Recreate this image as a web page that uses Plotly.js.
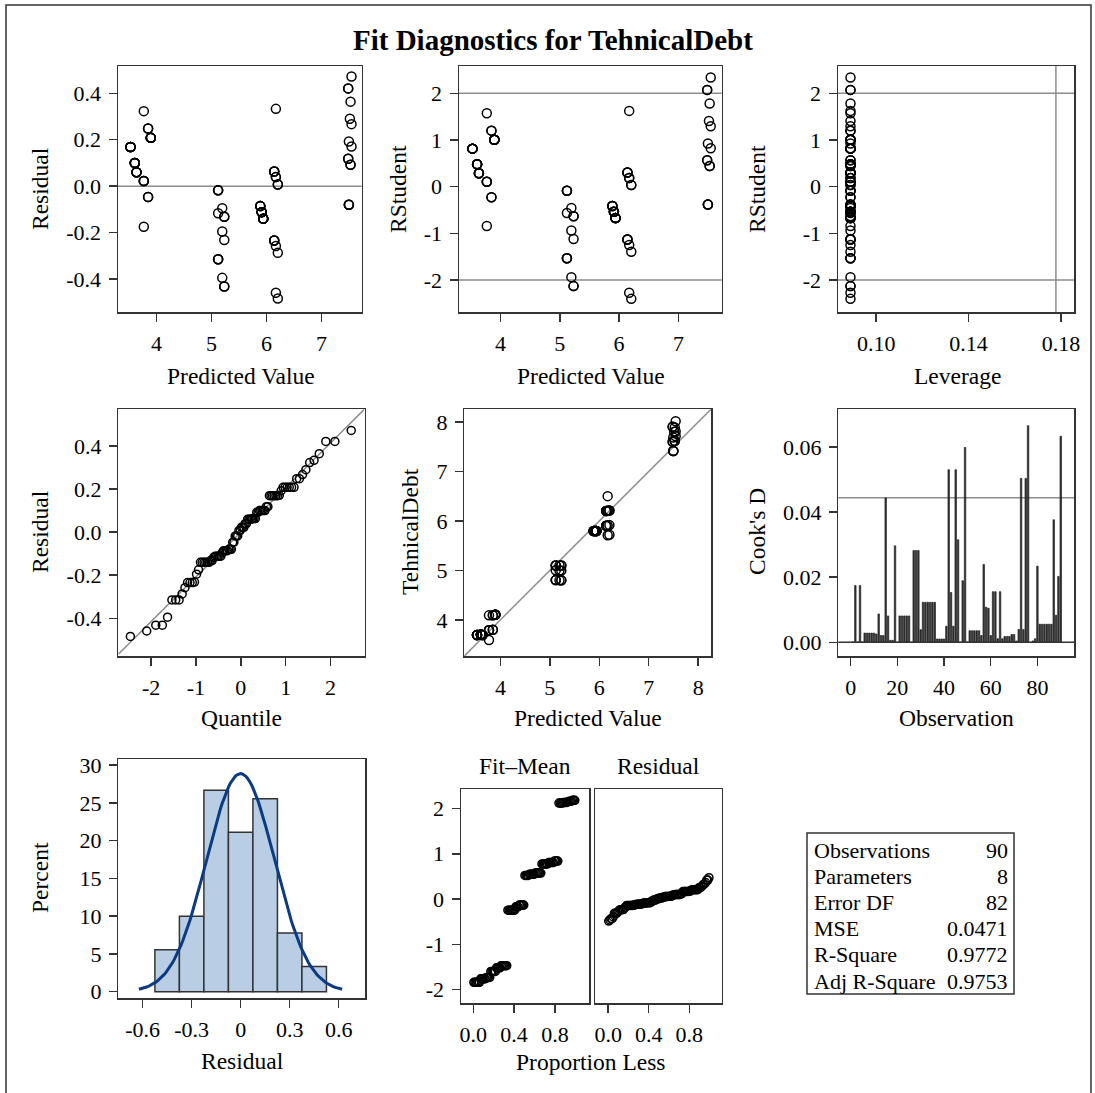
<!DOCTYPE html>
<html><head><meta charset="utf-8">
<script src="https://cdn.plot.ly/plotly-3.0.1.min.js"></script>
<style>html,body{margin:0;padding:0;background:#fff}#chart{width:1095px;height:1093px}</style>
</head><body><div id="chart"></div>
<script>
// ---------- data (by observation number 1..90) ----------
const predicted = [
 3.769,3.847,3.769,3.847,3.769,3.605,3.605,3.605,3.605,3.605,
 5.195,3.769,5.886,5.886,5.195,3.527,3.847,3.847,3.769,5.120,
 3.527,3.527,3.527,3.527,3.527,6.205,5.120,5.120,5.120,5.120,
 3.896,3.896,3.896,3.896,3.896,3.896,3.636,3.636,3.636,3.636,
 5.232,5.232,5.232,5.232,5.232,6.170,5.120,6.170,6.170,5.120,
 5.912,5.912,5.912,5.912,5.912,5.886,7.515,5.195,7.497,5.886,
 6.140,6.140,6.140,6.140,6.140,7.497,7.497,7.497,7.527,7.527,
 6.170,7.485,7.485,7.485,7.485,6.205,6.205,6.170,6.140,6.205,
 5.940,5.940,5.940,5.940,5.940,5.940,7.527,7.545,7.545,7.545
];
const residual = [
 0.022,0.248,0.022,0.248,0.022,0.100,0.100,0.100,0.100,0.100,
 -0.095,-0.175,-0.086,-0.086,-0.395,0.169,-0.047,-0.047,0.323,-0.018,
 0.169,0.169,0.169,0.169,0.169,0.007,-0.315,-0.315,-0.315,-0.117,
 0.208,0.208,0.208,0.208,0.208,0.208,0.060,0.060,0.060,0.060,
 -0.132,-0.432,-0.232,-0.132,-0.432,0.333,-0.018,-0.258,-0.459,-0.018,
 -0.112,-0.112,-0.112,-0.112,-0.112,-0.086,0.290,-0.195,0.192,-0.086,
 -0.234,-0.234,0.063,-0.234,0.063,-0.080,-0.080,-0.080,0.092,0.092,
 0.039,0.118,0.421,0.118,0.421,-0.484,0.007,0.039,0.063,-0.287,
 -0.140,-0.140,-0.140,-0.140,-0.140,-0.140,0.364,0.171,0.267,0.472
];
const leverageValue = 0.0889;

// fit statistics table
const statLabels = ["Observations","Parameters","Error DF","MSE","R-Square","Adj R-Square"];
const statValues = ["90","8","82","0.0471","0.9772","0.9753"];
const nObs = 90, nParams = 8, MSE = 0.0471;

// tick labels
const tkPredV = [4,5,6,7],            tkPredT = ["4","5","6","7"];
const tkResV  = [-0.4,-0.2,0,0.2,0.4], tkResT  = ["-0.4","-0.2","0.0","0.2","0.4"];
const tkRstV  = [-2,-1,0,1,2],         tkRstT  = ["-2","-1","0","1","2"];
const tkLevV  = [0.10,0.14,0.18],      tkLevT  = ["0.10","0.14","0.18"];
const tkQV    = [-2,-1,0,1,2],         tkQT    = ["-2","-1","0","1","2"];
const tkObsV  = [4,5,6,7,8],           tkObsT  = ["4","5","6","7","8"];
const tkNumV  = [0,20,40,60,80],       tkNumT  = ["0","20","40","60","80"];
const tkCdV   = [0,0.02,0.04,0.06],    tkCdT   = ["0.00","0.02","0.04","0.06"];
const tkHxV   = [-0.6,-0.3,0,0.3,0.6], tkHxT   = ["-0.6","-0.3","0","0.3","0.6"];
const tkPctV  = [0,5,10,15,20,25,30],  tkPctT  = ["0","5","10","15","20","25","30"];
const tkPropV = [0,0.4,0.8],           tkPropT = ["0.0","0.4","0.8"];

// ---------- derived diagnostics (as computed by the regression procedure) ----------
const n = residual.length;
const observed = predicted.map((p,i)=>p+residual[i]);
const leverage = residual.map(()=>leverageValue);
const rootMSE = Math.sqrt(MSE);
const rInternal = residual.map((e,i)=>e/(rootMSE*Math.sqrt(1-leverage[i])));
const rstudent = rInternal.map(r=>r*Math.sqrt((n-nParams-1)/(n-nParams-r*r)));
const cooksD = rInternal.map((r,i)=>r*r*leverage[i]/(nParams*(1-leverage[i])));
const obsNumber = residual.map((e,i)=>i+1);

function probit(p){
 const a=[-3.969683028665376e+01,2.209460984245205e+02,-2.759285104469687e+02,1.383577518672690e+02,-3.066479806614716e+01,2.506628277459239e+00];
 const b=[-5.447609879822406e+01,1.615858368580409e+02,-1.556989798598866e+02,6.680131188771972e+01,-1.328068155288572e+01];
 const c=[-7.784894002430293e-03,-3.223964580411365e-01,-2.400758277161838e+00,-2.549732539343734e+00,4.374664141464968e+00,2.938163982698783e+00];
 const d=[7.784695709041462e-03,3.224671290700398e-01,2.445134137142996e+00,3.754408661907416e+00];
 const pl=0.02425;
 if(p<pl){const q=Math.sqrt(-2*Math.log(p));return (((((c[0]*q+c[1])*q+c[2])*q+c[3])*q+c[4])*q+c[5])/((((d[0]*q+d[1])*q+d[2])*q+d[3])*q+1);}
 if(p<=1-pl){const q=p-0.5,r=q*q;return (((((a[0]*r+a[1])*r+a[2])*r+a[3])*r+a[4])*r+a[5])*q/(((((b[0]*r+b[1])*r+b[2])*r+b[3])*r+b[4])*r+1);}
 const q=Math.sqrt(-2*Math.log(1-p));return -(((((c[0]*q+c[1])*q+c[2])*q+c[3])*q+c[4])*q+c[5])/((((d[0]*q+d[1])*q+d[2])*q+d[3])*q+1);
}
const sortedRes = residual.slice().sort((a,b)=>a-b);
const qqX = sortedRes.map((v,i)=>probit((i+1-0.375)/(n+0.25)));
const resMean = residual.reduce((s,v)=>s+v,0)/n;
const resSD = Math.sqrt(residual.reduce((s,v)=>s+(v-resMean)*(v-resMean),0)/(n-1));
const predMean = predicted.reduce((s,v)=>s+v,0)/n;
const fitMinusMean = predicted.map(p=>p-predMean).sort((a,b)=>a-b);
const propLess = sortedRes.map((v,i)=>(i+0.5)/n);

// histogram bins + fitted normal density
const binStart = -0.525, binSize = 0.15, binEnd = 0.525;
const curveX = [], curveY = [];
for(let k=0;k<=120;k++){
  const x = resMean-3*resSD + k*(6*resSD/120);
  curveX.push(x);
  curveY.push(100*binSize*Math.exp(-0.5*((x-resMean)/resSD)**2)/(resSD*Math.sqrt(2*Math.PI)));
}

// ---------- layout geometry (pixels) ----------
const W=1095,H=1093;
const FONT='"Liberation Serif","Times New Roman",serif';
const fx=px=>px/W, fy=py=>1-py/H;
const FRAME='#333', REF='#8c8c8c';
const TICKSIZE=22;

function axis(d0,d1,range,tv,tt,anchor,opt){
  return Object.assign({domain:[fx(d0),fx(d1)],range:range,anchor:anchor,
    tickvals:tv,ticktext:tt,showline:true,mirror:true,linecolor:FRAME,linewidth:1.5,
    ticks:'outside',ticklen:8,tickwidth:1.5,tickcolor:FRAME,showgrid:false,zeroline:false,
    tickfont:{family:FONT,size:TICKSIZE,color:'#000'},ticklabelstandoff:3,fixedrange:true},opt||{});
}
function yaxis(t,b,range,tv,tt,anchor,opt){
  const a=axis(0,1,range,tv,tt,anchor,opt);
  a.domain=[fy(b),fy(t)];
  return a;
}

const R1=[66,312], R2=[409.3,656], R7=[759,998], R8=[789,1003.3];
const predRange=[3.30,7.73], rstRange=[-2.685,2.585];
const p5Range=[3.27,8.26];

const layout={
  width:W,height:H,margin:{l:0,r:0,t:0,b:0},showlegend:false,
  paper_bgcolor:'#fff',plot_bgcolor:'#fff',font:{family:FONT,color:'#000'},
  xaxis: axis(118,361.7,predRange,tkPredV,tkPredT,'y'),
  yaxis: yaxis(R1[0],R1[1],[-0.542,0.5175],tkResV,tkResT,'x'),
  xaxis2:axis(459,721.7,predRange,tkPredV,tkPredT,'y2'),
  yaxis2:yaxis(R1[0],R1[1],rstRange,tkRstV,tkRstT,'x2'),
  xaxis3:axis(838,1074,[0.0835,0.1856],tkLevV,tkLevT,'y3'),
  yaxis3:yaxis(R1[0],R1[1],rstRange,tkRstV,tkRstT,'x3'),
  xaxis4:axis(118.3,364.5,[-2.73,2.757],tkQV,tkQT,'y4'),
  yaxis4:yaxis(R2[0],R2[1],[-0.575,0.570],tkResV,tkResT,'x4'),
  xaxis5:axis(464.3,711,p5Range,tkObsV,tkObsT,'y5'),
  yaxis5:yaxis(R2[0],R2[1],p5Range,tkObsV,tkObsT,'x5'),
  xaxis6:axis(838.3,1074.3,[-5.3,95.8],tkNumV,tkNumT,'y6'),
  yaxis6:yaxis(R2[0],R2[1],[-0.0042,0.0716],tkCdV,tkCdT,'x6'),
  xaxis7:axis(118.3,365,[-0.749,0.761],tkHxV,tkHxT,'y7'),
  yaxis7:yaxis(R7[0],R7[1],[-0.83,30.8],tkPctV,tkPctT,'x7'),
  xaxis8:axis(461,589,[-0.12,1.133],tkPropV,tkPropT,'y8'),
  yaxis8:yaxis(R8[0],R8[1],[-2.3,2.43],tkRstV,tkRstT,'x8'),
  xaxis9:axis(595,721.7,[-0.13,1.12],tkPropV,tkPropT,'y9'),
  yaxis9:yaxis(R8[0],R8[1],[-2.3,2.43],tkRstV,tkRstT,'x9',{showticklabels:false,ticks:''}),
  bargap:0,
  shapes:[],annotations:[]
};

const refLine=(xref,yref,x0,y0,x1,y1)=>({type:'line',xref:xref,yref:yref,x0:x0,y0:y0,x1:x1,y1:y1,line:{color:REF,width:1.5},layer:'below'});
layout.shapes.push(
  refLine('x domain','y',0,0,1,0),
  refLine('x2 domain','y2',0,2,1,2), refLine('x2 domain','y2',0,-2,1,-2),
  refLine('x3 domain','y3',0,2,1,2), refLine('x3 domain','y3',0,-2,1,-2),
  refLine('x3','y3 domain',2*nParams/nObs,0,2*nParams/nObs,1),
  refLine('x5','y5',p5Range[0],p5Range[0],p5Range[1],p5Range[1]),
  refLine('x6 domain','y6',0,4/nObs,1,4/nObs),
  {type:'line',xref:'x6 domain',yref:'y6',x0:0,x1:1,y0:0,y1:0,line:{color:FRAME,width:1.5}},
  {type:'rect',xref:'paper',yref:'paper',x0:fx(807),x1:fx(1014),y0:fy(994),y1:fy(833),line:{color:FRAME,width:1.5}},
  {type:'rect',xref:'paper',yref:'paper',x0:fx(6),x1:fx(1091),y0:-0.02,y1:fy(5),line:{color:FRAME,width:1.5}}
);

function txt(s,px,py,size,opt){
  return Object.assign({text:s,x:fx(px),y:fy(py),xref:'paper',yref:'paper',showarrow:false,
    xanchor:'center',yanchor:'middle',font:{family:FONT,size:size,color:'#000'}},opt||{});
}
const AT=23.5;
layout.annotations.push(
  txt('<b>Fit Diagnostics for TehnicalDebt</b>',553,40,29),
  txt('Residual',40,189,AT,{textangle:-90}),
  txt('Predicted Value',241,376,AT),
  txt('RStudent',398,189,AT,{textangle:-90}),
  txt('Predicted Value',591,376,AT),
  txt('RStudent',757,189,AT,{textangle:-90}),
  txt('Leverage',957,376,AT),
  txt('Residual',40,532,AT,{textangle:-90}),
  txt('Quantile',241,718,AT),
  txt('TehnicalDebt',410,532,AT,{textangle:-90}),
  txt('Predicted Value',588,718,AT),
  txt("Cook's D",757,532,AT,{textangle:-90}),
  txt('Observation',956,718,AT),
  txt('Percent',40,878,AT,{textangle:-90}),
  txt('Residual',242,1061,AT),
  txt('Proportion Less',590,1062,AT),
  txt('Fit\u2013Mean',525,766,AT),
  txt('Residual',658,766,AT)
);
statLabels.forEach((s,i)=>{
  layout.annotations.push(txt(s,812,850+i*26.2,22,{xanchor:'left'}));
  layout.annotations.push(txt(statValues[i],1010,850+i*26.2,22,{xanchor:'right'}));
});

const openMk={symbol:'circle-open',size:9,color:'#000',line:{width:1.5,color:'#000'}};
const data=[
  {type:'scatter',mode:'markers',x:predicted,y:residual,xaxis:'x',yaxis:'y',marker:openMk},
  {type:'scatter',mode:'markers',x:predicted,y:rstudent,xaxis:'x2',yaxis:'y2',marker:openMk},
  {type:'scatter',mode:'markers',x:leverage,y:rstudent,xaxis:'x3',yaxis:'y3',marker:openMk},
  {type:'scatter',mode:'lines',x:[-2.73,2.757],y:[resMean-2.73*resSD,resMean+2.757*resSD],xaxis:'x4',yaxis:'y4',line:{color:REF,width:1.5},cliponaxis:true},
  {type:'scatter',mode:'markers',x:qqX,y:sortedRes,xaxis:'x4',yaxis:'y4',marker:Object.assign({},openMk,{size:8})},
  {type:'scatter',mode:'markers',x:predicted,y:observed,xaxis:'x5',yaxis:'y5',marker:openMk},
  {type:'bar',x:obsNumber,y:cooksD,xaxis:'x6',yaxis:'y6',width:0.65,marker:{color:'#3a3a3a',line:{color:'#111',width:0.6}}},
  {type:'histogram',x:residual,histnorm:'percent',xbins:{start:binStart,end:binEnd,size:binSize},xaxis:'x7',yaxis:'y7',
    marker:{color:'#b9cde5',line:{color:'#333',width:1.5}}},
  {type:'scatter',mode:'lines',x:curveX,y:curveY,xaxis:'x7',yaxis:'y7',line:{color:'#0b3b82',width:3}},
  {type:'scatter',mode:'markers',x:propLess,y:fitMinusMean,xaxis:'x8',yaxis:'y8',marker:Object.assign({},openMk,{size:8})},
  {type:'scatter',mode:'markers',x:propLess,y:sortedRes,xaxis:'x9',yaxis:'y9',marker:Object.assign({},openMk,{size:8})}
];
Plotly.newPlot('chart',data,layout,{displayModeBar:false,staticPlot:true});
</script></body></html>
